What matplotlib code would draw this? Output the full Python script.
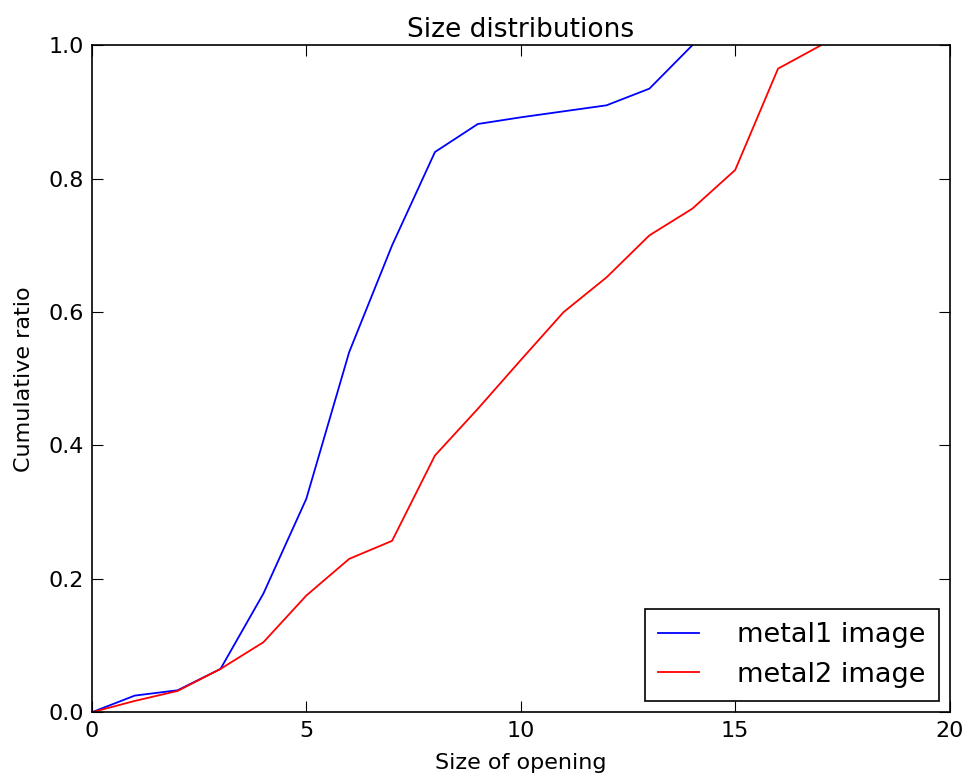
import matplotlib
matplotlib.use("Agg")
import matplotlib.pyplot as plt

# cumulative ratio per opening size
x1 = [0, 1, 2, 3, 4, 5, 6, 7, 8, 9, 10, 11, 12, 13, 14]
metal1 = [0.0, 0.025, 0.033, 0.065, 0.178, 0.32, 0.54, 0.70, 0.84, 0.882,
          0.892, 0.901, 0.910, 0.935, 1.0]

x2 = [0, 1, 2, 3, 4, 5, 6, 7, 8, 9, 10, 11, 12, 13, 14, 15, 16, 17]
metal2 = [0.0, 0.017, 0.032, 0.065, 0.105, 0.175, 0.230, 0.257, 0.385, 0.455,
          0.528, 0.600, 0.652, 0.715, 0.755, 0.813, 0.965, 1.0]

labels = ["metal1 image", "metal2 image"]

fig = plt.figure(figsize=(9.67, 7.81), dpi=100)
ax = fig.add_axes([0.095, 0.088, 0.887, 0.854])

ax.plot(x1, metal1, color="b", linewidth=1.3, label=labels[0])
ax.plot(x2, metal2, color="r", linewidth=1.3, label=labels[1])

ax.set_xlim(0, 20)
ax.set_ylim(0, 1.0)
ax.set_xticks([0, 5, 10, 15, 20])
ax.set_yticks([0.0, 0.2, 0.4, 0.6, 0.8, 1.0])
ax.tick_params(direction="in", top=True, right=True, length=8, labelsize=16, pad=6)
for s in ax.spines.values():
    s.set_linewidth(1.2)

ax.set_title("Size distributions", fontsize=19, pad=6)
ax.set_xlabel("Size of opening", fontsize=16, labelpad=9)
ax.set_ylabel("Cumulative ratio", fontsize=16, labelpad=10)

leg = ax.legend(loc="lower right", fontsize=19.5, fancybox=False, framealpha=1,
                edgecolor="black", handlelength=1.5, handletextpad=1.4,
                borderaxespad=0.4, labelspacing=0.5, borderpad=0.5)
leg.get_frame().set_linewidth(1.2)

fig.savefig("out.png", dpi=100)
